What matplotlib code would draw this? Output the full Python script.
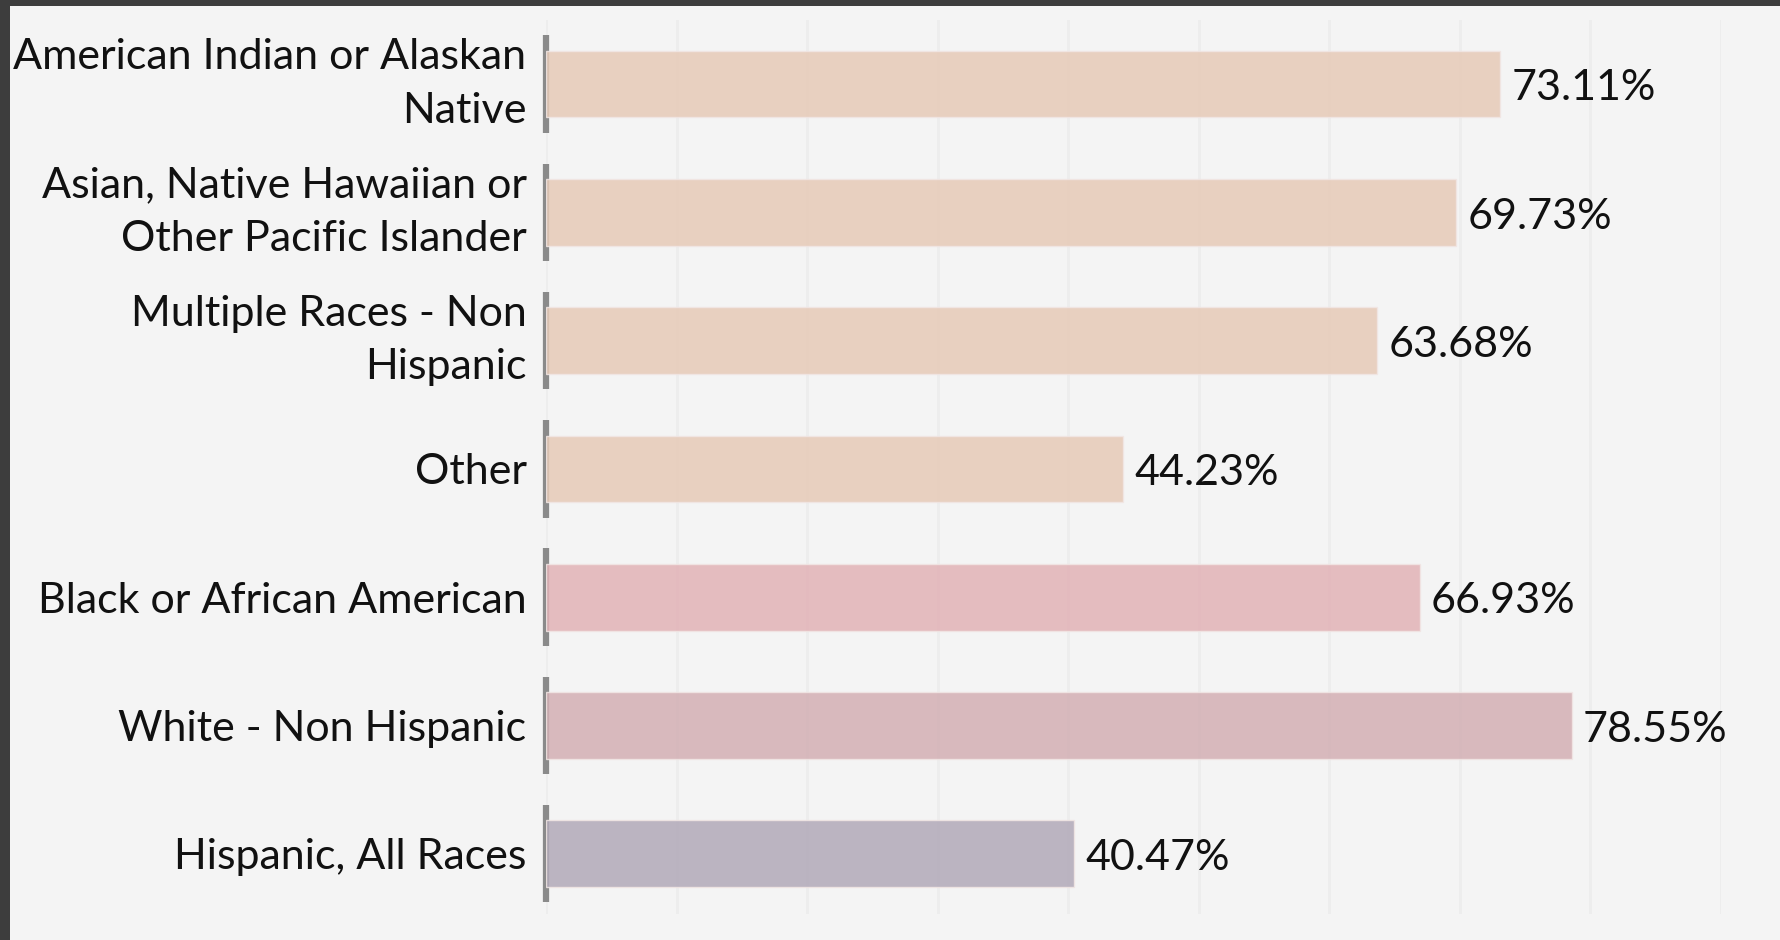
import matplotlib
matplotlib.use("Agg")
import matplotlib.pyplot as plt

# ─────────────────────────────────────────────────────────────────────────────
# Data
# ─────────────────────────────────────────────────────────────────────────────
categories = [
    "American Indian or Alaskan\nNative",
    "Asian, Native Hawaiian or\nOther Pacific Islander",
    "Multiple Races - Non\nHispanic",
    "Other",
    "Black or African American",
    "White - Non Hispanic",
    "Hispanic, All Races",
]
values = [73.11, 69.73, 63.68, 44.23, 66.93, 78.55, 40.47]
# colours chosen so that, at alpha 0.85 over the #f4f4f4 panel, they match
bar_colors = ["#e7cab7", "#e7cab7", "#e7cab7", "#e7cab7",
              "#e2b2b6", "#d3afb4", "#b1a9b8"]
x_ticks = list(range(0, 100, 10))

FONT = ["Lato", "DejaVu Sans"]
FS = 31

# ─────────────────────────────────────────────────────────────────────────────
# Figure
# ─────────────────────────────────────────────────────────────────────────────
fig = plt.figure(figsize=(17.81, 9.40), dpi=100)
fig.patch.set_facecolor("#3d3d3d")

# light panel (dark frame on left and top only)
bg = fig.add_axes([10 / 1781, 0, 1, 1 - 6 / 940], zorder=0)
bg.set_axis_off()
bg.add_artist(plt.Rectangle((0, 0), 1, 1, transform=bg.transAxes,
                            facecolor="#f4f4f4", edgecolor="none"))

ax = fig.add_axes([546 / 1781, 1 - 914 / 940, (1721 - 546) / 1781, (914 - 20) / 940],
                  zorder=1)
ax.set_facecolor("none")

y_pos = list(range(len(categories)))

# faint vertical gridlines
for xv in x_ticks:
    ax.axvline(xv, color="#ededed", lw=2, zorder=0)

# per-category axis segments
ax.vlines([0] * len(y_pos), [y - 0.38 for y in y_pos], [y + 0.38 for y in y_pos],
          color="#8a8a8a", lw=4.5, zorder=1, clip_on=False)

ax.barh(y_pos, values, height=0.52, color=bar_colors, alpha=0.85,
        edgecolor="#f1e6e4", linewidth=1, zorder=2)

for y, v in zip(y_pos, values):
    ax.annotate(f"{v:.2f}%", xy=(v, y), xytext=(8, -3), textcoords="offset points",
                va="center", ha="left", fontsize=FS, family=FONT, color="#111111")

ax.set_xlim(0, 90)
ax.set_ylim(len(categories) - 0.53, -0.5)
ax.set_xticks([])
ax.set_yticks(y_pos)
ax.set_yticklabels(categories, fontsize=FS, family=FONT, color="#111111",
                   multialignment="right", linespacing=1.5)
for lbl in ax.get_yticklabels():
    if "\n" in lbl.get_text():
        lbl.set_va("center")
ax.tick_params(axis="y", length=0, pad=14)
for s in ax.spines.values():
    s.set_visible(False)

fig.savefig("out.png", dpi=100, facecolor=fig.get_facecolor())
